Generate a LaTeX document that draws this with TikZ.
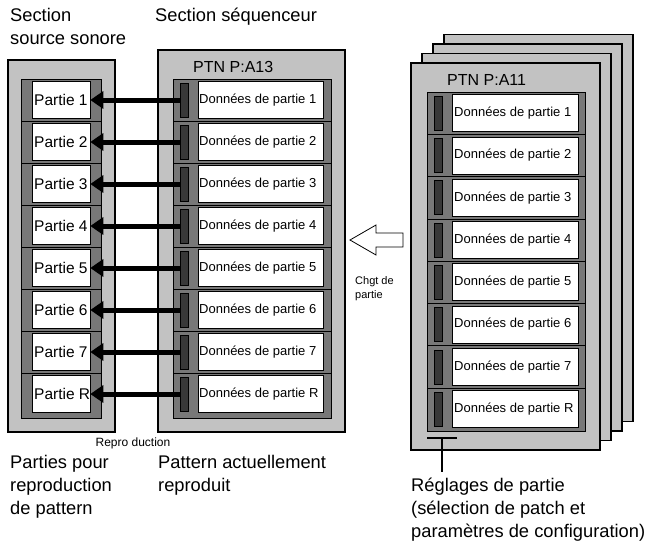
\documentclass[tikz,border=0pt]{standalone}
\usepackage{fontspec}
\setmainfont{Liberation Sans}
\usetikzlibrary{arrows.meta}
\definecolor{pale}{gray}{0.76}
\definecolor{mid}{gray}{0.47}
\definecolor{deep}{gray}{0.22}
\tikzset{
  sheet/.style={draw, line width=1.2pt, fill=pale},
  column/.style={draw, line width=0.8pt, fill=mid},
  cell/.style={draw, line width=0.6pt, fill=white, inner sep=0pt},
  bar/.style={draw, line width=0.5pt, fill=deep, minimum width=8pt, minimum height=34pt, inner sep=0pt},
  play/.style={line width=5pt, -{Triangle[length=13pt,width=17pt]}},
  lbl/.style={font=\fontsize{18.3}{23}\selectfont, align=left, anchor=north west, inner sep=0pt}
}
\begin{document}
\begin{tikzpicture}[x=1pt,y=-1pt]
  \useasboundingbox (0,0) rectangle (654,546);

  % source sonore
  \draw[sheet] (8,60) rectangle (115,432);
  \draw[column] (21,79) rectangle (101,418);
  % sequenceur
  \draw[sheet] (158,50) rectangle (345,432);
  \node[anchor=west, font=\fontsize{16}{18}\selectfont, inner sep=0pt] (ptnA) at (193,67) {PTN P:A13};
  \draw[column] (173,79) rectangle (331,418);

  \foreach \i/\t in {1/1,2/2,3/3,4/4,5/5,6/6,7/7,8/R} {
    \pgfmathsetmacro{\yy}{100+42*(\i-1)}
    \ifnum\i>1 \draw[line width=0.8pt] (21,\yy-21) -- (101,\yy-21);
      \draw[line width=0.8pt] (173,\yy-21) -- (331,\yy-21); \fi
    \node[cell, minimum width=58pt, minimum height=37pt] (src\i) at (61,\yy) {};
    \node[anchor=west, font=\fontsize{15.5}{17}\selectfont, inner sep=0pt] at (34,\yy) {Partie \t};
    \node[bar] (seq\i) at (184,\yy) {};
    \node[cell, minimum width=125pt, minimum height=37pt] (dat\i) at (260.5,\yy) {};
    \node[anchor=west, font=\fontsize{13}{15}\selectfont, inner sep=0pt] at (199,\yy) {Données de partie \t};
    \draw[play] (seq\i.west) -- (src\i.east);
  }

  % pile de patterns
  \foreach \d in {3,2,1} {
    \draw[sheet] (411+11*\d,63-9.5*\d) rectangle (600+11*\d,450-9.5*\d);
  }
  \draw[sheet] (411,63) rectangle (600,450);
  \node[anchor=west, font=\fontsize{16}{18}\selectfont, inner sep=0pt] (ptnB) at (447,80) {PTN P:A11};
  \draw[column] (427,92) rectangle (585,431);
  \foreach \i/\t in {1/1,2/2,3/3,4/4,5/5,6/6,7/7,8/R} {
    \pgfmathsetmacro{\yy}{113+42.3*(\i-1)}
    \ifnum\i>1 \draw[line width=0.8pt] (427,\yy-21) -- (585,\yy-21); \fi
    \node[bar] (pbar\i) at (438,\yy) {};
    \node[cell, minimum width=126pt, minimum height=37pt] (pdat\i) at (515,\yy) {};
    \node[anchor=west, font=\fontsize{13}{15}\selectfont, inner sep=0pt] at (454,\yy) {Données de partie \t};
  }
  \draw[line width=1.5pt] (427,438) -- (457,438);
  \coordinate (tick) at (442,438);
  \coordinate (tickEnd) at (442,472);
  \draw[line width=1.2pt] (tick) -- (tickEnd);
  \node[lbl] (regl) at (411,478) {Réglages de partie\\(sélection de patch et\\paramètres de configuration)};

  % changement de partie
  \draw[line width=0.8pt, fill=white] (403,233) -- (376,233) -- (376,225) -- (350,240)
    -- (376,255) -- (376,247) -- (403,247) -- cycle;
  \node[font=\fontsize{11}{14}\selectfont, align=left, anchor=north west, inner sep=0pt] (chgt) at (355,276) {Chgt de\\partie};

  % textes
  \node[lbl] (srcT) at (10,8) {Section\\source sonore};
  \node[lbl] (seqT) at (155,8) {Section séquenceur};
  \node[font=\fontsize{12}{14}\selectfont, inner sep=0pt] (repro) at (133,443) {Repro duction};
  \node[lbl] (srcB) at (10,455) {Parties pour\\reproduction\\de pattern};
  \node[lbl] (seqB) at (158,455) {Pattern actuellement\\reproduit};
\end{tikzpicture}
\end{document}
